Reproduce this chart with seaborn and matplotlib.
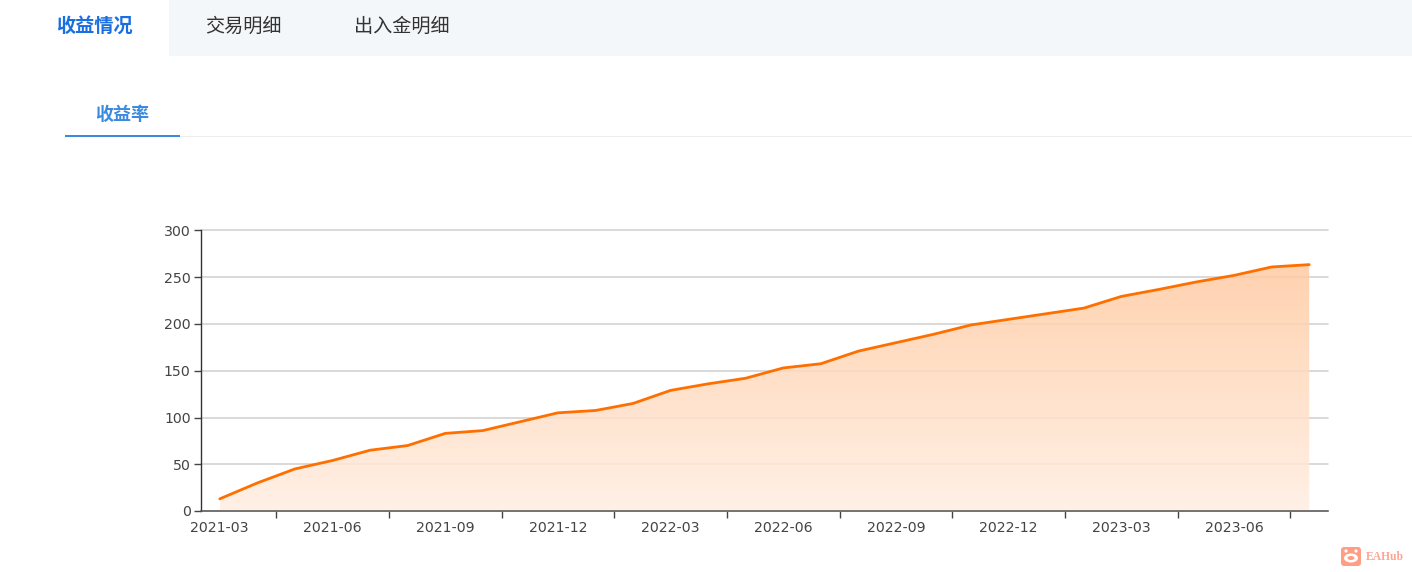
import numpy as np
import pandas as pd
import matplotlib
matplotlib.use('Agg')
import matplotlib.pyplot as plt
from matplotlib.patches import Rectangle, FancyBboxPatch, Circle, Ellipse
import seaborn as sns

# Chart data
months = ['2021-03', '2021-04', '2021-05', '2021-06', '2021-07', '2021-08', '2021-09', '2021-10',
          '2021-11', '2021-12', '2022-01', '2022-02', '2022-03', '2022-04', '2022-05', '2022-06',
          '2022-07', '2022-08', '2022-09', '2022-10', '2022-11', '2022-12', '2023-01', '2023-02',
          '2023-03', '2023-04', '2023-05', '2023-06', '2023-07', '2023-08']
returns = [13, 30, 45, 54, 65, 70, 83, 86, 95.5, 105, 107.5, 115, 129, 136, 142, 153,
           157.5, 171, 180, 189, 199, 205, 211, 217, 229.5, 237, 245, 252, 261, 263.5]
y_ticks = [0, 50, 100, 150, 200, 250, 300]
main_tabs = ['收益情况', '交易明细', '出入金明细']
sub_tab = '收益率'

W, H = 1412, 572
ORANGE = '#ff6f00'
TEXT = '#444444'

sns.set_theme(style='white')
plt.rcParams['font.family'] = ['Noto Sans CJK SC', 'DejaVu Sans']

df = pd.DataFrame({'month': months, 'value': returns})
df['pos'] = range(len(df))

fig = plt.figure(figsize=(W / 100, H / 100), dpi=100, facecolor='white')

# Page furniture (tabs, watermark) in pixel coordinates
page = fig.add_axes([0, 0, 1, 1])
page.set_xlim(0, W)
page.set_ylim(H, 0)
page.axis('off')
page.add_patch(Rectangle((169, 0), W - 169, 56, color='#f4f7fa', lw=0))
page.text(94.5, 26.5, main_tabs[0], color='#1a6fe0', fontsize=13.8, fontweight='bold', ha='center', va='center')
page.text(243.5, 26.5, main_tabs[1], color='#333333', fontsize=13.8, ha='center', va='center')
page.text(402, 26.5, main_tabs[2], color='#333333', fontsize=13.8, ha='center', va='center')
page.text(122.5, 114.5, sub_tab, color='#3a8ae0', fontsize=13, fontweight='bold', ha='center', va='center')
page.add_patch(Rectangle((180, 136), W - 180, 1, color='#eeeeee', lw=0))
page.add_patch(Rectangle((65, 135), 115, 2, color='#3a8ae0', lw=0))

# EAHub watermark
page.add_patch(FancyBboxPatch((1341, 547), 20, 19, boxstyle='round,pad=0,rounding_size=3', color='#ff9d85', lw=0))
page.add_patch(Ellipse((1351, 558), 14, 9, color='white', lw=0))
page.add_patch(Circle((1346, 551), 1.6, color='white', lw=0))
page.add_patch(Circle((1356, 551), 1.6, color='white', lw=0))
page.add_patch(Ellipse((1351, 558), 7, 4, color='#ff9d85', lw=0))
page.text(1366, 557.5, 'EAHub', color='#ffa594', fontsize=8.4, fontweight='bold', family='Liberation Serif', ha='left', va='center')

# Chart axes
left, right, top, bottom = 201, 1328, 230.5, 511
ax = fig.add_axes([left / W, 1 - bottom / H, (right - left) / W, (bottom - top) / H])
ax.patch.set_alpha(0)

sns.lineplot(data=df, x='pos', y='value', color=ORANGE, linewidth=2, ax=ax, zorder=4)

# Gradient area under the line, clipped to the data polygon
poly = ax.fill_between(df['pos'], df['value'], 0, color='none', lw=0)
rgba = np.zeros((256, 2, 4))
rgba[..., 0] = 1.0
rgba[..., 1] = np.linspace(202, 238, 256)[:, None] / 255
rgba[..., 2] = np.linspace(161, 226, 256)[:, None] / 255
rgba[..., 3] = 0.85
img = ax.imshow(rgba, extent=[df['pos'].min(), df['pos'].max(), 0, df['value'].max()],
                origin='upper', aspect='auto', zorder=3, interpolation='bilinear')
img.set_clip_path(poly.get_paths()[0], transform=ax.transData)
ax.set_xlim(-0.5, len(months) - 0.5)
ax.set_ylim(0, 300)

ax.set_yticks(y_ticks)
ax.grid(True, axis='y', color='#cfcfcf', linewidth=1.1, clip_on=False)
ax.grid(False, axis='x')
ax.set_axisbelow(True)
ax.set_xlabel('')
ax.set_ylabel('')

for side in ['top', 'right']:
    ax.spines[side].set_visible(False)
ax.spines['left'].set_color('#333333')
ax.spines['left'].set_linewidth(1)
ax.spines['bottom'].set_color('#555555')
ax.spines['bottom'].set_linewidth(1.1)
ax.spines['bottom'].set_zorder(5)

# Ticks sit on band edges, labels on every third band centre
ax.set_xticks(np.arange(1.5, len(months) - 0.5, 3))
ax.set_xticklabels([])
ax.set_xticks(df['pos'][::3], minor=True)
ax.set_xticklabels(df['month'][::3], minor=True, family='DejaVu Sans')
ax.tick_params(axis='x', which='major', length=5, width=1, color='#444444', bottom=True)
ax.tick_params(axis='x', which='minor', length=0, pad=7, labelsize=10.2, labelcolor=TEXT)
ax.tick_params(axis='y', length=5, width=1, color='#444444', left=True, pad=2.5, labelsize=10.2, labelcolor=TEXT)
for label in ax.get_yticklabels():
    label.set_family('DejaVu Sans')

plt.savefig('out.png', dpi=100)
plt.close()
